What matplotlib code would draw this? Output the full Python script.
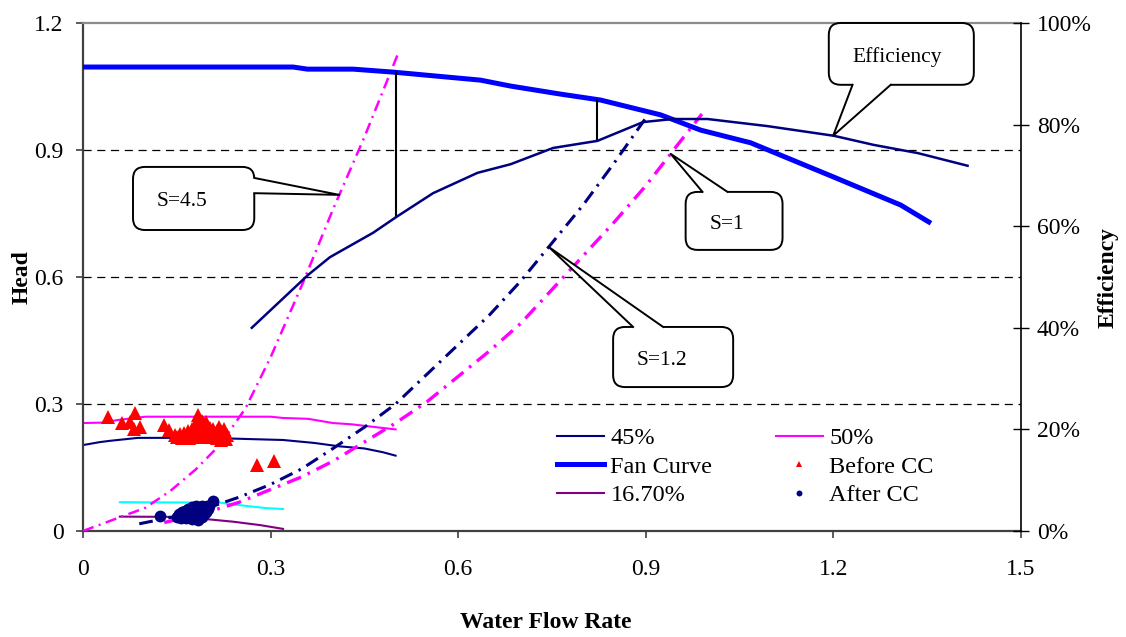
import numpy as np
import matplotlib.pyplot as plt
from matplotlib.patches import FancyBboxPatch, Polygon
from matplotlib.ticker import PercentFormatter

plt.rcParams['font.family'] = ['Liberation Serif', 'DejaVu Serif']

# fan curve (head vs water flow rate)
fan_x = [0, 0.336, 0.359, 0.432, 0.496, 0.636, 0.684, 0.764, 0.828, 0.924, 0.988, 1.068, 1.201, 1.308, 1.353]
fan_head = [1.096, 1.096, 1.091, 1.091, 1.084, 1.065, 1.051, 1.032, 1.018, 0.983, 0.947, 0.917, 0.836, 0.770, 0.730]

# fan efficiency (right axis)
eff_x = [0.27, 0.36, 0.395, 0.464, 0.501, 0.56, 0.631, 0.684, 0.752, 0.823, 0.896, 0.944, 0.999,
         1.095, 1.201, 1.265, 1.335, 1.415]
eff = [0.40, 0.504, 0.539, 0.587, 0.618, 0.665, 0.705, 0.722, 0.754, 0.768, 0.805, 0.811, 0.811,
       0.797, 0.778, 0.760, 0.744, 0.719]

# head at part speed
p45_x = [0, 0.027, 0.043, 0.088, 0.2, 0.27, 0.32, 0.37, 0.41, 0.45, 0.48, 0.5]
p45_head = [0.203, 0.21, 0.213, 0.22, 0.22, 0.217, 0.215, 0.208, 0.2, 0.195, 0.186, 0.178]
p50_x = [0, 0.03, 0.055, 0.1, 0.3, 0.32, 0.36, 0.4, 0.43, 0.47, 0.5]
p50_head = [0.255, 0.256, 0.262, 0.27, 0.27, 0.267, 0.265, 0.255, 0.252, 0.245, 0.24]
cyan_x = [0.059, 0.219, 0.262, 0.294, 0.32]
cyan_head = [0.068, 0.067, 0.059, 0.054, 0.052]
p167_x = [0.059, 0.187, 0.198, 0.24, 0.283, 0.32]
p167_head = [0.034, 0.033, 0.028, 0.022, 0.014, 0.005]

# system curves
s45_x = [0, 0.04, 0.1, 0.14, 0.18, 0.22, 0.26, 0.3, 0.35, 0.4, 0.45, 0.503]
s45_head = [0, 0.022, 0.055, 0.095, 0.145, 0.205, 0.29, 0.41, 0.58, 0.76, 0.93, 1.124]
s12_x = [0.09, 0.15, 0.2, 0.25, 0.3, 0.35, 0.4, 0.45, 0.5, 0.55, 0.6, 0.65, 0.7, 0.75, 0.8, 0.85, 0.9]
s12_head = [0.017, 0.035, 0.055, 0.08, 0.11, 0.147, 0.195, 0.245, 0.30, 0.37, 0.44, 0.51, 0.59,
            0.68, 0.77, 0.87, 0.975]
s1_x = [0.13, 0.2, 0.25, 0.3, 0.35, 0.4, 0.45, 0.5, 0.55, 0.6, 0.65, 0.7, 0.75, 0.8, 0.85, 0.9,
        0.95, 0.99]
s1_head = [0.02, 0.045, 0.068, 0.098, 0.128, 0.165, 0.21, 0.255, 0.305, 0.365, 0.425, 0.49, 0.57,
           0.65, 0.73, 0.815, 0.91, 0.985]

# measured operating points
before_x = [0.040, 0.062, 0.075, 0.083, 0.081, 0.091, 0.129, 0.137, 0.147,
            0.150, 0.155, 0.158, 0.162, 0.165, 0.168, 0.170, 0.172, 0.174, 0.176, 0.178, 0.180,
            0.181, 0.182, 0.184, 0.185, 0.186, 0.188, 0.189, 0.190, 0.192, 0.193, 0.194, 0.195,
            0.196, 0.198, 0.199, 0.200, 0.202, 0.203, 0.205, 0.207, 0.208, 0.210, 0.212, 0.214,
            0.215, 0.217, 0.219, 0.220, 0.221, 0.223, 0.225, 0.227, 0.229, 0.231,
            0.278, 0.305]
before_head = [0.270, 0.256, 0.258, 0.278, 0.240, 0.246, 0.250, 0.239, 0.227,
               0.222, 0.228, 0.220, 0.232, 0.225, 0.236, 0.220, 0.230, 0.240, 0.224, 0.245, 0.232,
               0.250, 0.222, 0.275, 0.238, 0.255, 0.228, 0.246, 0.260, 0.234, 0.252, 0.222, 0.242,
               0.258, 0.230, 0.248, 0.238, 0.226, 0.244, 0.234, 0.222, 0.240, 0.230, 0.226, 0.236,
               0.220, 0.246, 0.228, 0.214, 0.236, 0.224, 0.242, 0.230, 0.218, 0.226,
               0.156, 0.165]
after_x = [0.123, 0.150, 0.153, 0.156, 0.158, 0.160, 0.163, 0.165, 0.166, 0.168, 0.170, 0.172,
           0.174, 0.175, 0.177, 0.178, 0.180, 0.181, 0.182, 0.184, 0.185, 0.186, 0.188, 0.190,
           0.191, 0.192, 0.194, 0.196, 0.197, 0.199, 0.200, 0.202, 0.208]
after_head = [0.036, 0.034, 0.040, 0.030, 0.044, 0.036, 0.048, 0.030, 0.040, 0.052, 0.034, 0.045,
              0.056, 0.028, 0.040, 0.050, 0.034, 0.058, 0.044, 0.026, 0.052, 0.038, 0.046, 0.058,
              0.032, 0.050, 0.040, 0.056, 0.046, 0.060, 0.052, 0.058, 0.071]

# flows where head and efficiency are compared
mark_x = [0.501, 0.823]

xticks = [0, 0.3, 0.6, 0.9, 1.2, 1.5]
xtick_labels = ['0', '0.3', '0.6', '0.9', '1.2', '1.5']
yticks = [0, 0.3, 0.6, 0.9, 1.2]
ytick_labels = ['0', '0.3', '0.6', '0.9', '1.2']
eff_ticks = [0, 0.2, 0.4, 0.6, 0.8, 1.0]

fig = plt.figure(figsize=(11.26, 6.37), dpi=100)
ax = fig.add_axes([0.0737, 0.1664, 0.8328, 0.7975])
ax2 = ax.twinx()

ax.set_xlim(0, 1.5)
ax.set_ylim(0, 1.2)
ax2.set_ylim(0, 1.0)

for y in yticks[1:-1]:
    ax.axhline(y, color='black', lw=0.9, linestyle=(0, (6.5, 4.5)), zorder=1)

dashdot = (0, (4.5, 2.2, 0.8, 2.2))
ax.plot(s45_x, s45_head, color='#FF00FF', lw=1.8, linestyle=dashdot, zorder=3)
ax.plot(s12_x, s12_head, color='#000080', lw=2.2, linestyle=dashdot, zorder=3)
ax.plot(s1_x, s1_head, color='#FF00FF', lw=2.4, linestyle=dashdot, zorder=3)

l45, = ax.plot(p45_x, p45_head, color='#000080', lw=1.5, zorder=2, label='45%')
lfan, = ax.plot(fan_x, fan_head, color='#0000FF', lw=3.6, zorder=4, label='Fan Curve')
ax.plot(cyan_x, cyan_head, color='#00FFFF', lw=1.5, zorder=2)
l167, = ax.plot(p167_x, p167_head, color='#800080', lw=1.5, zorder=2, label='16.70%')
l50, = ax.plot(p50_x, p50_head, color='#FF00FF', lw=1.5, zorder=2, label='50%')
lbef, = ax.plot(before_x, before_head, linestyle='none', marker='^', ms=10, mew=0,
                color='#FF0000', zorder=5, label='Before CC')
laft, = ax.plot(after_x, after_head, linestyle='none', marker='o', ms=8.5, mew=0,
                color='#000080', zorder=5, label='After CC')

ax2.plot(eff_x, eff, color='#000080', lw=1.8, zorder=3)

# vertical markers between fan head and efficiency
for mx in mark_x:
    top = np.interp(mx, fan_x, fan_head)
    bot = np.interp(mx, eff_x, eff) * 1.2
    ax.plot([mx, mx], [bot, top], color='black', lw=1.5, zorder=6)

# axes styling
ax.spines['right'].set_visible(False)
ax.spines['left'].set_color('#404040')
ax.spines['bottom'].set_color('#404040')
ax.spines['left'].set_linewidth(1.6)
ax.spines['bottom'].set_linewidth(1.6)
ax.spines['top'].set_color('#8C8C8C')
ax.spines['top'].set_linewidth(1.6)
for s in ['left', 'top', 'bottom']:
    ax2.spines[s].set_visible(False)
ax2.spines['right'].set_color('black')
ax2.spines['right'].set_linewidth(1.2)

ax.set_xticks(xticks)
ax.set_xticklabels(xtick_labels)
ax.set_yticks(yticks)
ax.set_yticklabels(ytick_labels)
ax.tick_params(axis='y', direction='out', length=5, width=1.2, color='#404040', pad=9, labelsize=17)
ax.tick_params(axis='x', direction='out', length=5, width=1.2, color='#404040', pad=15, labelsize=17)
ax2.set_yticks(eff_ticks)
ax2.yaxis.set_major_formatter(PercentFormatter(1.0, decimals=0))
ax2.tick_params(axis='y', direction='inout', length=11, width=1.0, color='black', pad=6, labelsize=17)

fig.text(22 / 1126, 1 - 277 / 637, 'Head', rotation=90, ha='center', va='center',
         fontsize=17, fontweight='bold')
fig.text(1108 / 1126, 1 - 277 / 637, 'Efficiency', rotation=90, ha='center', va='center',
         fontsize=17, fontweight='bold')
fig.text(546 / 1126, 1 - 622 / 637, 'Water Flow Rate', ha='center', va='center',
         fontsize=17, fontweight='bold')

leg = ax2.legend([l45, lfan, l167, l50, lbef, laft],
                 ['45%', 'Fan Curve', '16.70%', '50%', 'Before CC', 'After CC'],
                 ncol=2, frameon=False, loc='upper left', bbox_to_anchor=(557 / 1126, 1 - 427 / 637),
                 bbox_transform=fig.transFigure, borderaxespad=0, borderpad=0,
                 fontsize=17.5, handlelength=1.95, handletextpad=0.25, columnspacing=2.6,
                 labelspacing=0.27, markerscale=0.5)

# callout boxes
asp = (937.7 / 1.5) / (508 / 1.2)


def callout(label, box, side, b0, b1, tip):
    x0, y0, x1, y1 = box
    patch = FancyBboxPatch((x0, y0), x1 - x0, y1 - y0,
                           boxstyle='round,pad=0,rounding_size=0.019',
                           mutation_aspect=asp, transform=ax.transData,
                           fc='white', ec='black', lw=1.4, zorder=10, clip_on=False)
    ax2.add_patch(patch)
    dx, dy = 0.006, 0.009
    if side == 'right':
        p0, p1 = (x1, b0), (x1, b1)
        q0, q1 = (x1 - dx, b0), (x1 - dx, b1)
    elif side == 'top':
        p0, p1 = (b0, y1), (b1, y1)
        q0, q1 = (b0, y1 - dy), (b1, y1 - dy)
    else:
        p0, p1 = (b0, y0), (b1, y0)
        q0, q1 = (b0, y0 + dy), (b1, y0 + dy)
    wedge = Polygon([q0, p0, tip, p1, q1], closed=True, fc='white', ec='none',
                    transform=ax.transData, zorder=11, clip_on=False)
    ax2.add_patch(wedge)
    ax2.plot([p0[0], tip[0], p1[0]], [p0[1], tip[1], p1[1]], color='black', lw=1.4,
             transform=ax.transData, zorder=12, clip_on=False)
    ax2.text(x0 + 0.038, (y0 + y1) / 2 - 0.008, label, ha='left', va='center', fontsize=15.5,
             transform=ax.transData, zorder=13)


callout('Efficiency', (1.193, 1.054, 1.425, 1.2), 'bottom', 1.231, 1.292,
        (1.2, np.interp(1.2, eff_x, eff) * 1.2))
callout('S=4.5', (0.080, 0.711, 0.274, 0.860), 'right', 0.798, 0.834,
        (0.41, np.interp(0.41, s45_x, s45_head)))
callout('S=1', (0.964, 0.664, 1.119, 0.801), 'top', 0.991, 1.031,
        (0.94, np.interp(0.94, s1_x, s1_head)))
callout('S=1.2', (0.848, 0.340, 1.040, 0.482), 'top', 0.880, 0.928,
        (0.745, np.interp(0.745, s12_x, s12_head)))

ax.set_xlim(0, 1.5)
ax.set_ylim(0, 1.2)
ax2.set_ylim(0, 1.0)

fig.savefig('out.png', dpi=100)
